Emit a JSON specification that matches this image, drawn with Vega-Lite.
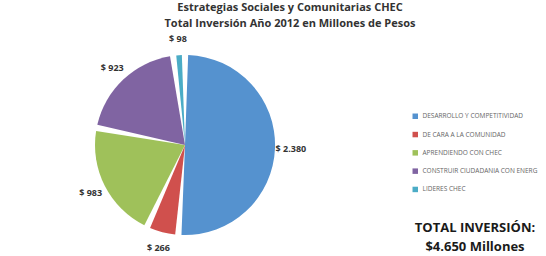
{
  "$schema": "https://vega.github.io/schema/vega-lite/v6.json",
  "autosize": {"type": "none"},
  "width": 370,
  "height": 206,
  "padding": {"top": 42, "left": 0, "right": 176, "bottom": 8},
  "background": "white",
  "title": {
    "text": ["Estrategias Sociales y Comunitarias CHEC", "Total Inversión Año 2012 en Millones de Pesos"],
    "anchor": "middle",
    "dx": 105,
    "offset": 6,
    "font": "Open Sans",
    "fontSize": 11,
    "fontWeight": "bold",
    "color": "#333333",
    "lineHeight": 16.5
  },
  "data": {
    "values": [
      {"estrategia": "DESARROLLO Y COMPETITIVIDAD", "valor": 2380, "etiqueta": "$ 2.380", "orden": 1},
      {"estrategia": "DE CARA A LA COMUNIDAD", "valor": 266, "etiqueta": "$ 266", "orden": 2},
      {"estrategia": "APRENDIENDO CON CHEC", "valor": 983, "etiqueta": "$ 983", "orden": 3},
      {"estrategia": "CONSTRUIR CIUDADANIA CON ENERG", "valor": 923, "etiqueta": "$ 923", "orden": 4},
      {"estrategia": "LIDERES CHEC", "valor": 98, "etiqueta": "$ 98", "orden": 5}
    ]
  },
  "encoding": {
    "theta": {"field": "valor", "type": "quantitative", "stack": true},
    "order": {"field": "orden", "type": "quantitative"},
    "color": {
      "field": "estrategia",
      "type": "nominal",
      "scale": {
        "domain": ["DESARROLLO Y COMPETITIVIDAD", "DE CARA A LA COMUNIDAD", "APRENDIENDO CON CHEC", "CONSTRUIR CIUDADANIA CON ENERG", "LIDERES CHEC"],
        "range": ["#5592cf", "#d0504d", "#9fc15a", "#8064a2", "#4bacc6"]
      },
      "legend": {
        "orient": "none",
        "legendX": 412,
        "legendY": 71,
        "title": ["TOTAL INVERSIÓN:", "$4.650 Millones"],
        "titleOrient": "bottom",
        "titleAnchor": "middle",
        "titleFont": "Open Sans",
        "titleFontSize": 13,
        "titleFontWeight": "bold",
        "titleColor": "#1a1a1a",
        "titlePadding": 29,
        "titleLineHeight": 19,
        "labelFont": "Open Sans",
        "labelFontSize": 6.5,
        "labelColor": "#666666",
        "symbolType": "square",
        "symbolSize": 30,
        "symbolStrokeWidth": 0,
        "rowPadding": 11.3,
        "labelLimit": 130
      }
    }
  },
  "layer": [
    {"mark": {"type": "arc", "outerRadius": 90, "padAngle": 0.07}},
    {
      "mark": {"type": "text", "radius": 106, "font": "Open Sans", "fontSize": 9, "fontWeight": "bold"},
      "encoding": {"text": {"field": "etiqueta"}, "color": {"value": "#333333"}}
    }
  ]
}
